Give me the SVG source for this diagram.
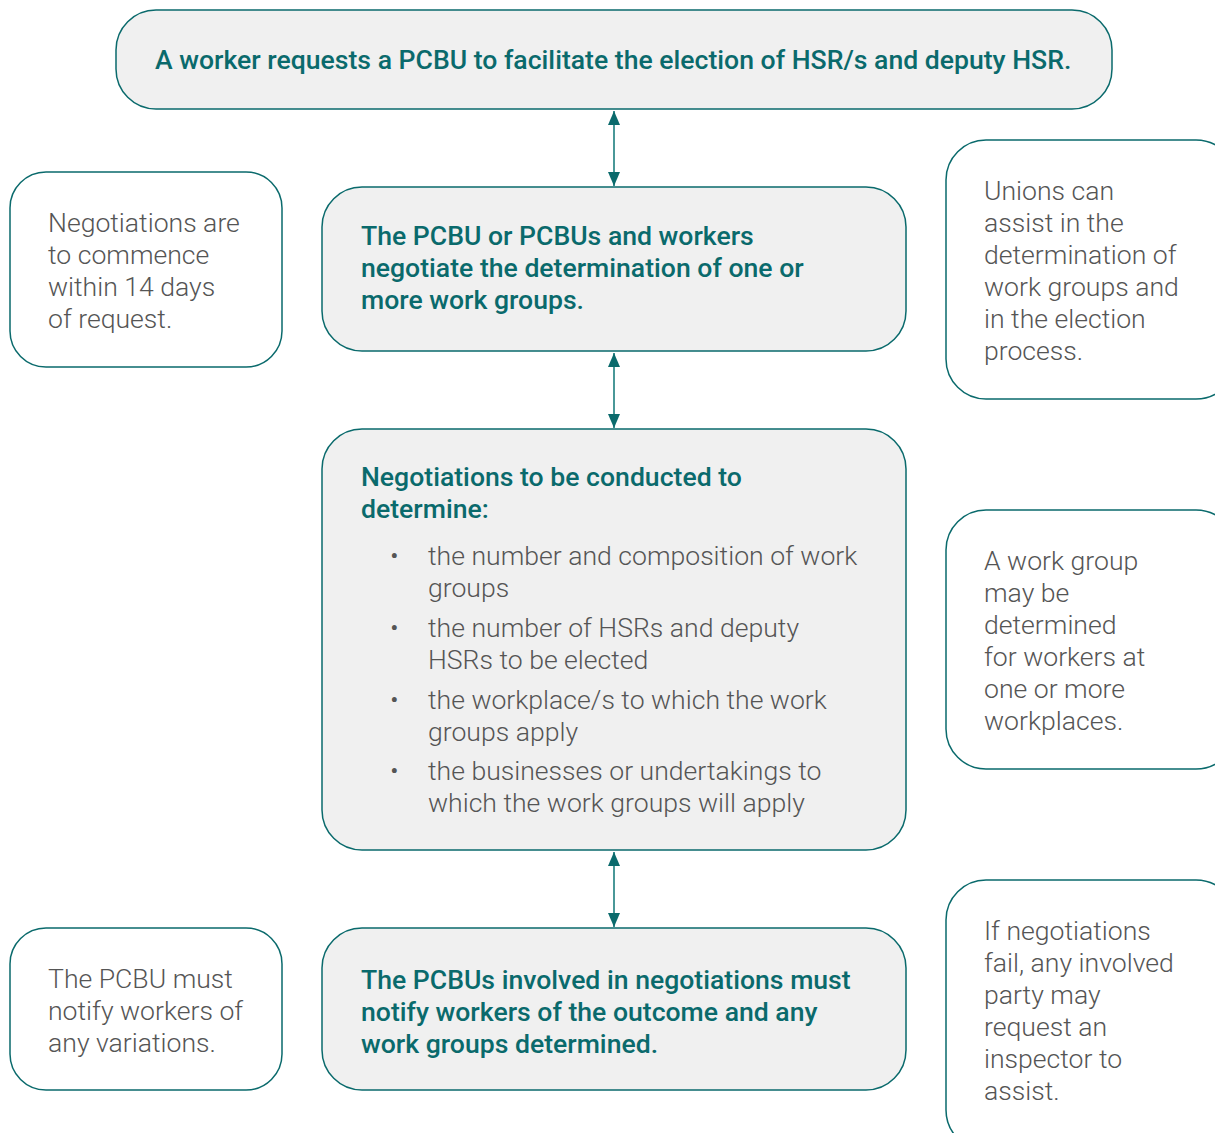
<svg xmlns="http://www.w3.org/2000/svg" width="1215" height="1133" viewBox="0 0 1215 1133">
<style>
.box{fill:#f0f0f0;stroke:#0a6a6c;stroke-width:1.5}
.note{fill:#ffffff;stroke:#0a6a6c;stroke-width:1.5}
.h{font-family:Roboto,"Liberation Sans",sans-serif;font-weight:500;font-size:26.6px;fill:#0a6a6c}
.t{font-family:Roboto,"Liberation Sans",sans-serif;font-weight:300;font-size:26.6px;fill:#555555}
.conn{stroke:#4a9898;stroke-width:2;fill:none}
</style>
<defs>
<marker id="ah" viewBox="0 0 14 12" refX="14" refY="6" markerWidth="14" markerHeight="12" orient="auto-start-reverse" markerUnits="userSpaceOnUse">
<path d="M0,0 L14,6 L0,12 z" fill="#0a6a6c"/>
</marker>
</defs>
<rect width="1215" height="1133" fill="#ffffff"/>
<g id="connectors">
<line class="conn" x1="614" y1="111" x2="614" y2="186" marker-start="url(#ah)" marker-end="url(#ah)"/>
<line class="conn" x1="614" y1="353" x2="614" y2="428" marker-start="url(#ah)" marker-end="url(#ah)"/>
<line class="conn" x1="614" y1="852" x2="614" y2="927" marker-start="url(#ah)" marker-end="url(#ah)"/>
</g>
<g id="n-request">
<rect class="box" x="116" y="10" width="996" height="99" rx="40"/>
<text class="h" x="155" y="69">A worker requests a PCBU to facilitate the election of HSR/s and deputy HSR.</text>
</g>
<g id="n-negotiate">
<rect class="box" x="322" y="187" width="584" height="164" rx="40"/>
<text class="h" x="361" y="245">The PCBU or PCBUs and workers</text>
<text class="h" x="361" y="277">negotiate the determination of one or</text>
<text class="h" x="361" y="309">more work groups.</text>
</g>
<g id="n-determine">
<rect class="box" x="322" y="429" width="584" height="421" rx="40"/>
<text class="h" x="361" y="486">Negotiations to be conducted to</text>
<text class="h" x="361" y="518">determine:</text>
<text class="t" x="390" y="565">•</text>
<text class="t" x="428" y="565">the number and composition of work</text>
<text class="t" x="428" y="597">groups</text>
<text class="t" x="390" y="637">•</text>
<text class="t" x="428" y="637">the number of HSRs and deputy</text>
<text class="t" x="428" y="669">HSRs to be elected</text>
<text class="t" x="390" y="709">•</text>
<text class="t" x="428" y="709">the workplace/s to which the work</text>
<text class="t" x="428" y="741">groups apply</text>
<text class="t" x="390" y="780">•</text>
<text class="t" x="428" y="780">the businesses or undertakings to</text>
<text class="t" x="428" y="812">which the work groups will apply</text>
</g>
<g id="n-notify">
<rect class="box" x="322" y="928" width="584" height="162" rx="40"/>
<text class="h" x="361" y="989">The PCBUs involved in negotiations must</text>
<text class="h" x="361" y="1021">notify workers of the outcome and any</text>
<text class="h" x="361" y="1053">work groups determined.</text>
</g>
<g id="n-14days">
<rect class="note" x="10" y="172" width="272" height="195" rx="36"/>
<text class="t" x="48" y="232">Negotiations are</text>
<text class="t" x="48" y="264">to commence</text>
<text class="t" x="48" y="296">within 14 days</text>
<text class="t" x="48" y="328">of request.</text>
</g>
<g id="n-variations">
<rect class="note" x="10" y="928" width="272" height="162" rx="36"/>
<text class="t" x="48" y="988">The PCBU must</text>
<text class="t" x="48" y="1020">notify workers of</text>
<text class="t" x="48" y="1052">any variations.</text>
</g>
<g id="n-unions">
<rect class="note" x="946" y="140" width="290" height="259" rx="40"/>
<text class="t" x="984" y="200">Unions can</text>
<text class="t" x="984" y="232">assist in the</text>
<text class="t" x="984" y="264">determination of</text>
<text class="t" x="984" y="296">work groups and</text>
<text class="t" x="984" y="328">in the election</text>
<text class="t" x="984" y="360">process.</text>
</g>
<g id="n-workplaces">
<rect class="note" x="946" y="510" width="290" height="259" rx="40"/>
<text class="t" x="984" y="570">A work group</text>
<text class="t" x="984" y="602">may be</text>
<text class="t" x="984" y="634">determined</text>
<text class="t" x="984" y="666">for workers at</text>
<text class="t" x="984" y="698">one or more</text>
<text class="t" x="984" y="730">workplaces.</text>
</g>
<g id="n-inspector">
<rect class="note" x="946" y="880" width="290" height="270" rx="40"/>
<text class="t" x="984" y="940">If negotiations</text>
<text class="t" x="984" y="972">fail, any involved</text>
<text class="t" x="984" y="1004">party may</text>
<text class="t" x="984" y="1036">request an</text>
<text class="t" x="984" y="1068">inspector to</text>
<text class="t" x="984" y="1100">assist.</text>
</g>
</svg>
